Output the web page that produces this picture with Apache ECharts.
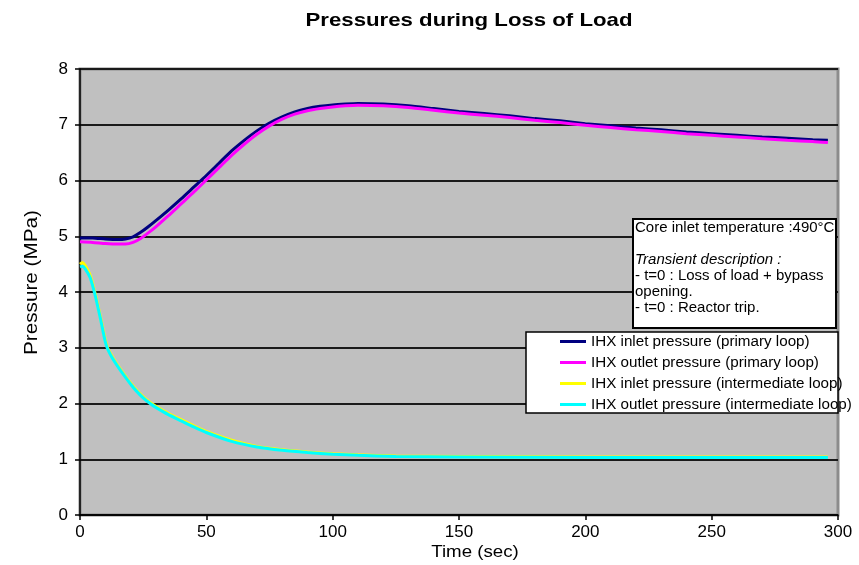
<!DOCTYPE html>
<html>
<head>
<meta charset="utf-8">
<script src="https://cdn.jsdelivr.net/npm/echarts@6/dist/echarts.min.js"></script>
<style>
  html, body { margin: 0; padding: 0; background: #ffffff; }
  #chart { width: 859px; height: 565px; }
</style>
</head>
<body>
<div id="chart"></div>
<script>
// Time samples (s) for the primary loop curves
const tPrimary = [0, 5, 10, 15, 18, 21, 24, 27, 30, 35, 40, 45, 50, 55, 60, 65, 70, 75, 80, 85, 90, 95,
  100, 105, 110, 120, 130, 140, 150, 160, 170, 180, 190, 200, 210, 220, 230, 240, 250, 260, 270, 280, 290, 296];
// IHX inlet pressure, primary loop (MPa)
const inletPrimary = [4.97, 4.97, 4.95, 4.94, 4.95, 4.99, 5.07, 5.17, 5.28, 5.47, 5.67, 5.88, 6.09, 6.31, 6.53, 6.72, 6.89, 7.03, 7.14, 7.23, 7.29, 7.33,
  7.355, 7.37, 7.38, 7.37, 7.34, 7.29, 7.24, 7.20, 7.16, 7.11, 7.07, 7.02, 6.98, 6.94, 6.91, 6.87, 6.84, 6.81, 6.78, 6.76, 6.73, 6.72];
// IHX outlet pressure, primary loop (MPa)
const outletPrimary = [4.90, 4.89, 4.87, 4.86, 4.86, 4.89, 4.96, 5.06, 5.17, 5.37, 5.58, 5.79, 6.01, 6.23, 6.45, 6.65, 6.83, 6.98, 7.10, 7.19, 7.25, 7.29,
  7.32, 7.34, 7.35, 7.34, 7.31, 7.26, 7.21, 7.17, 7.13, 7.08, 7.04, 6.99, 6.95, 6.91, 6.88, 6.84, 6.81, 6.78, 6.75, 6.72, 6.70, 6.68];

// Time samples (s) for the intermediate loop curves
const tInter = [0, 1, 2, 4, 6, 8, 9, 10, 11, 12, 13, 15, 17, 20, 22, 25, 28, 30, 35, 40, 45, 50, 60, 70, 80, 90, 100,
  110, 125, 150, 200, 250, 296];
// IHX inlet pressure, intermediate loop (MPa)
const inletInter = [4.50, 4.53, 4.48, 4.30, 3.97, 3.57, 3.35, 3.14, 2.99, 2.90, 2.82, 2.68, 2.55, 2.37, 2.26, 2.12, 2.01, 1.95, 1.82, 1.71, 1.60, 1.50, 1.34, 1.23, 1.17, 1.13, 1.10,
  1.08, 1.06, 1.05, 1.04, 1.04, 1.04];
// IHX outlet pressure, intermediate loop (MPa)
const outletInter = [4.45, 4.46, 4.42, 4.26, 3.94, 3.54, 3.32, 3.11, 2.97, 2.88, 2.80, 2.66, 2.53, 2.35, 2.24, 2.10, 1.99, 1.93, 1.80, 1.69, 1.58, 1.48, 1.32, 1.22, 1.16, 1.12, 1.09,
  1.07, 1.05, 1.04, 1.03, 1.03, 1.03];

const seriesNames = [
  'IHX inlet pressure (primary loop)',
  'IHX outlet pressure (primary loop)',
  'IHX inlet pressure (intermediate loop)',
  'IHX outlet pressure (intermediate loop)'
];
const seriesColors = ['#000080', '#ff00ff', '#ffff00', '#00ffff'];

const titleText = 'Pressures during Loss of Load';
const xTitle = 'Time (sec)';
const yTitle = 'Pressure (MPa)';
const noteText = 'Core inlet temperature :490°C\n\n{i|Transient description :}\n- t=0 : Loss of load + bypass\nopening.\n- t=0 : Reactor trip.';

function pairs(t, v) { return t.map((x, i) => [x, v[i]]); }

const FONT = '"Liberation Sans", Arial, sans-serif';

const chart = echarts.init(document.getElementById('chart'), null, { renderer: 'canvas' });

const lineSeries = [
  [tPrimary, inletPrimary],
  [tPrimary, outletPrimary],
  [tInter, inletInter],
  [tInter, outletInter]
].map((d, i) => ({
  name: seriesNames[i],
  type: 'line',
  data: pairs(d[0], d[1]),
  showSymbol: false,
  symbol: 'none',
  smooth: 0.2,
  lineStyle: { width: 3, color: seriesColors[i] },
  itemStyle: { color: seriesColors[i] },
  z: 3 + i,
  animation: false
}));

chart.setOption({
  animation: false,
  backgroundColor: '#ffffff',
  grid: {
    left: 80, right: 21, top: 69, bottom: 50,
    show: true,
    backgroundColor: '#c0c0c0',
    borderColor: '#8c8c8c',
    borderWidth: 3
  },
  xAxis: {
    type: 'value',
    min: 0, max: 300, interval: 50,
    axisLine: { show: true, onZero: false, lineStyle: { color: '#000000', width: 1.5 } },
    axisTick: { show: true, length: 5, lineStyle: { color: '#000000', width: 1.5 } },
    axisLabel: { color: '#000000', fontSize: 17, fontFamily: FONT, margin: 9 },
    splitLine: { show: false }
  },
  yAxis: {
    type: 'value',
    min: 0, max: 8, interval: 1,
    axisLine: { show: true, lineStyle: { color: '#000000', width: 1.5 } },
    axisTick: { show: true, length: 5, lineStyle: { color: '#000000', width: 1.5 } },
    axisLabel: { color: '#000000', fontSize: 17, fontFamily: FONT, margin: 12 },
    splitLine: { show: true, lineStyle: { color: '#1a1a1a', width: 2 } }
  },
  legend: {
    orient: 'vertical',
    left: 560, top: 334,
    padding: 0,
    itemWidth: 26, itemHeight: 3,
    itemGap: 6,
    icon: 'rect',
    z: 12,
    data: seriesNames,
    textStyle: { color: '#000000', fontSize: 15.2, fontFamily: FONT, lineHeight: 14.5 }
  },
  graphic: [
    {
      type: 'text', z: 20,
      x: 469, y: 21,
      scaleX: 1.2,
      style: { text: titleText, font: 'bold 18.5px ' + FONT, fill: '#000000', align: 'center', verticalAlign: 'middle' }
    },
    {
      type: 'text', z: 20,
      x: 475, y: 552,
      scaleX: 1.1,
      style: { text: xTitle, font: '17px ' + FONT, fill: '#000000', align: 'center', verticalAlign: 'middle' }
    },
    {
      type: 'text', z: 20,
      x: 32, y: 282.5,
      rotation: Math.PI / 2,
      scaleX: 1.15,
      style: { text: yTitle, font: '18px ' + FONT, fill: '#000000', align: 'center', verticalAlign: 'middle' }
    },
    {
      type: 'rect', z: 10,
      shape: { x: 526, y: 332, width: 312, height: 81 },
      style: { fill: '#ffffff', stroke: '#000000', lineWidth: 1.5 }
    },
    {
      type: 'rect', z: 10,
      shape: { x: 633, y: 219, width: 203, height: 109 },
      style: { fill: '#ffffff', stroke: '#000000', lineWidth: 2 }
    },
    {
      type: 'text', z: 11,
      x: 635, y: 219.5,
      style: {
        text: noteText,
        font: '15px ' + FONT,
        fill: '#000000',
        lineHeight: 16,
        verticalAlign: 'top',
        rich: { i: { fontStyle: 'italic', fontSize: 15, fontFamily: FONT, lineHeight: 16 } }
      }
    }
  ],
  series: lineSeries
});
</script>
</body>
</html>
